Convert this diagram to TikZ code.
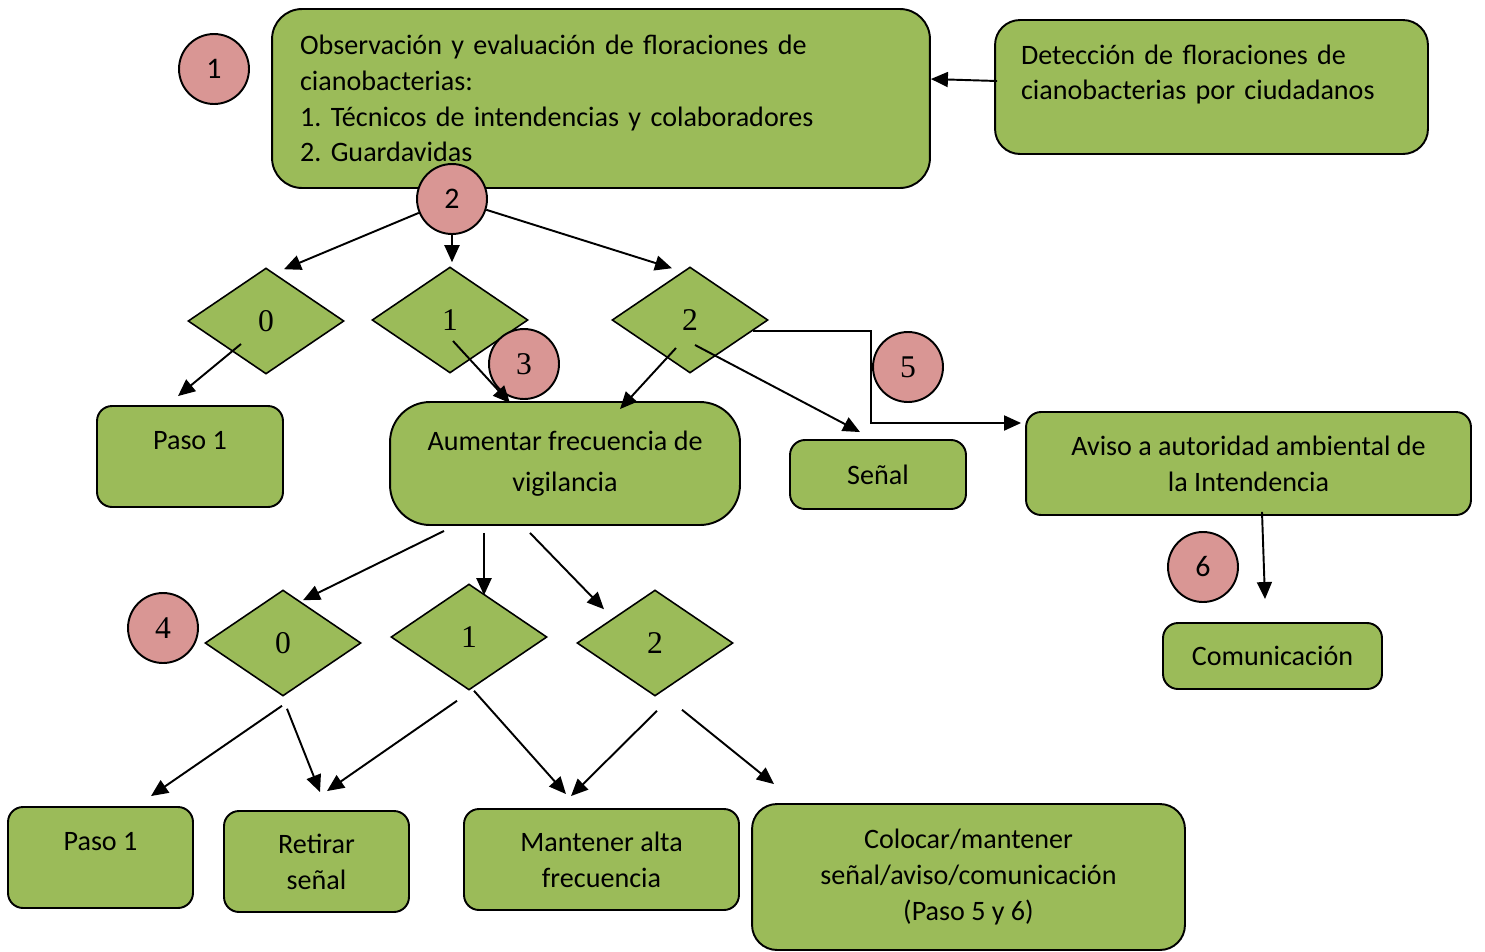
\documentclass[tikz,border=0pt]{standalone}
\usepackage{fontspec}
\setmainfont{Carlito}
\newfontfamily\digitfont{Liberation Serif}
\usetikzlibrary{positioning, calc, shapes.geometric, arrows.meta}
\frenchspacing
\definecolor{leaf}{HTML}{9BBB59}
\definecolor{blush}{HTML}{D99694}
\tikzset{
  box/.style={draw=black, line width=1.1pt, fill=leaf, rounded corners=0.3cm, align=center, inner sep=0.1cm, font=\fontsize{16}{20.4}\selectfont},
  choice/.style={diamond, draw=black, line width=0.9pt, fill=leaf, minimum width=3.12cm, minimum height=2.12cm, inner sep=0pt, font=\digitfont\fontsize{18}{20}\selectfont},
  stepnum/.style={circle, draw=black, line width=1.1pt, fill=blush, minimum size=1.4cm, inner sep=0pt, font=\fontsize{17}{19}\selectfont},
  stepser/.style={stepnum, font=\digitfont\fontsize{18}{20}\selectfont},
  arr/.style={-{Triangle[length=0.34cm, width=0.3cm]}, line width=1.1pt},
}
\begin{document}
\begin{tikzpicture}[x=0.02cm, y=-0.02cm]
\useasboundingbox (0,0) rectangle (1485,951);

% decision diamonds
\node[choice] (d0) at (266,321) {0};
\node[choice] (d1) at (450,320) {1};
\node[choice] (d2) at (690,320) {2};
\node[choice] (e0) at (283,643) {0};
\node[choice] (e1) at (469,637) {1};
\node[choice] (e2) at (655,643) {2};

% boxes
\node[box, rounded corners=0.6cm, align=left, text width=12.04cm, inner xsep=0.56cm, minimum height=3.58cm] (obs) at (601,98.5)
  {Observación y evaluación de floraciones de\\cianobacterias:\\1. Técnicos de intendencias y colaboradores\\2. Guardavidas};
\node[box, rounded corners=0.5cm, align=left, text width=7.62cm, inner xsep=0.52cm, text height=0.78cm, text depth=1.7cm] (det) at (1211.5,87)
  {Detección de floraciones de\\cianobacterias por ciudadanos};
\node[box, minimum width=3.72cm, text height=0.76cm, text depth=1.06cm] (pasoA) at (190,456.5) {Paso 1};
\node[box, rounded corners=0.8cm, minimum width=7cm, minimum height=2.46cm] (aum) at (565,463.5)
  {Aumentar frecuencia de\\[0.1cm]vigilancia};
\node[box, minimum width=3.52cm, minimum height=1.38cm] (senal) at (878,474.5) {Señal};
\node[box, minimum width=8.9cm, minimum height=2.06cm] (aviso) at (1248.5,463.5)
  {Aviso a autoridad ambiental de\\la Intendencia};
\node[box, minimum width=4.38cm, minimum height=1.32cm] (comun) at (1272.5,656) {Comunicación};
\node[box, minimum width=3.7cm, text height=0.76cm, text depth=1.06cm] (pasoB) at (100.5,857.5) {Paso 1};
\node[box, minimum width=3.7cm, minimum height=2.02cm] (retirar) at (316.5,861.5) {Retirar\\señal};
\node[box, minimum width=5.5cm, minimum height=2.02cm] (mantener) at (601.5,859.5) {Mantener alta\\frecuencia};
\node[box, rounded corners=0.5cm, minimum width=8.66cm, minimum height=2.92cm] (colocar) at (968.5,877)
  {Colocar/mantener\\señal/aviso/comunicación\\(Paso 5 y 6)};

% step numbers
\node[stepnum] (c1) at (214,69) {1};
\node[stepnum] (c2) at (452,199) {2};
\node[stepser] (c3) at (524,364) {3};
\node[stepser] (c4) at (163,628) {4};
\node[stepser] (c5) at (908,367) {5};
\node[stepnum] (c6) at (1203,567) {6};

% connectors
\draw[arr] ($(det.west)+(3,-6)$) -- ($(obs.east)+(0,-19.5)$);
\draw[arr] (c2) -- ($(d0.north)+(18,2)$);
\draw[arr] (c2) -- ($(d1.north)+(2,-4)$);
\draw[arr] (c2) -- ($(d2.north)+(-18,2)$);
\draw[arr] ($(d0.center)+(-25,23)$) -- ($(pasoA.north)+(-12,-9)$);
\draw[arr] ($(d1.center)+(3,21)$) -- ($(aum.north)+(-55,2)$);
\draw[arr] ($(d2.center)+(-14,28)$) -- ($(aum.north)+(55,8)$);
\draw[arr] ($(d2.center)+(5,25)$) -- ($(senal.north)+(-18,-7)$);
\draw[arr] ($(d2.east)+(-16,11)$) -- ++(118,0) |- ($(aviso.west)+(-4,-40.5)$);
\draw[arr] ($(aviso.south)+(13.5,-4)$) -- ($(comun.north)+(-7.5,-23)$);
\draw[arr] ($(aum.south)+(-121,5)$) -- ($(e0.north)+(20,11)$);
\draw[arr] ($(aum.south)+(-81,7)$) -- ($(e1.north)+(15,12)$);
\draw[arr] ($(aum.south)+(-35,7)$) -- ($(e2.north)+(-51,20)$);
\draw[arr] ($(e0.south)+(-1,9)$) -- ($(pasoB.north)+(50.5,-10)$);
\draw[arr] ($(e0.south)+(4,12)$) -- ($(retirar.north)+(3.5,-18)$);
\draw[arr] ($(e1.south)+(-12,10)$) -- ($(retirar.north)+(10.5,-19)$);
\draw[arr] ($(e1.south)+(5,0)$) -- ($(mantener.north)+(-35.5,-14)$);
\draw[arr] ($(e2.south)+(2,14)$) -- ($(mantener.north)+(-30.5,-12)$);
\draw[arr] ($(e2.south)+(27,13)$) -- ($(colocar.north)+(-194.5,-19)$);
\end{tikzpicture}
\end{document}
